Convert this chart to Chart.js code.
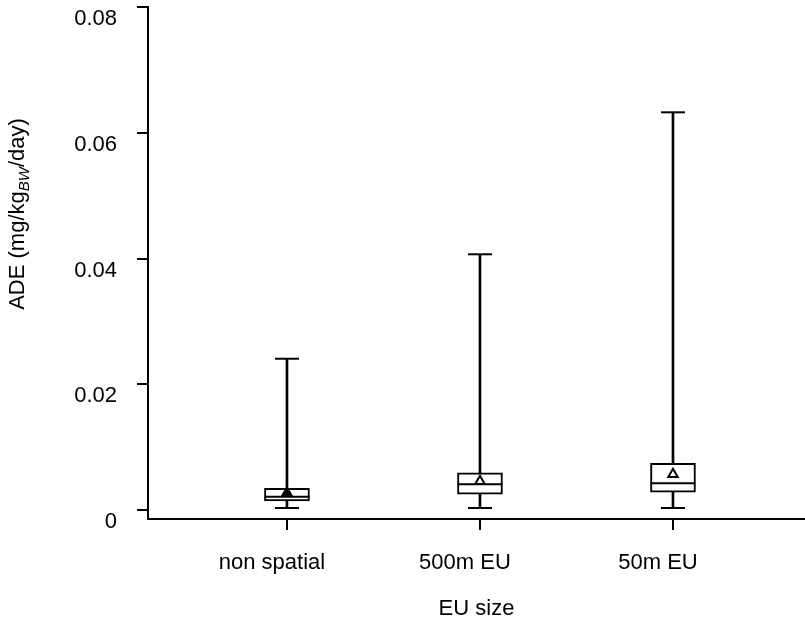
<!DOCTYPE html>
<html>
<head>
<meta charset="utf-8">
<script src="https://cdn.jsdelivr.net/npm/chart.js@4/dist/chart.umd.min.js"></script>
<style>
html,body{margin:0;padding:0;background:#fff;}
#wrap{width:805px;height:626px;position:relative;}
</style>
</head>
<body>
<div id="wrap"><canvas id="c" width="805" height="626"></canvas></div>
<script>
// ---- data ----
const categories = ["non spatial", "500m EU", "50m EU"];
const whiskerMin = [0.00032, 0.00032, 0.00032];
const q1Values = [0.00143, 0.00250, 0.00282];
const medianValues = [0.00212, 0.00409, 0.00425];
const q3Values = [0.00345, 0.00593, 0.00743];
const whiskerMax = [0.02406, 0.04067, 0.06325];
const meanValues = [0.00270, 0.00456, 0.00568];
const yTickValues = [0, 0.02, 0.04, 0.06, 0.08];

const FONT = "'Liberation Sans', Arial, sans-serif";
const xs = categories.map((_, i) => i + 1);

const boxData = xs.map((x, i) => ({x: x, y: [q1Values[i], q3Values[i]]}));
const whiskerData = xs.map((x, i) => ({x: x, y: [whiskerMin[i], whiskerMax[i]]}));
const capData = xs.flatMap((x, i) => [{x: x, y: whiskerMin[i]}, {x: x, y: whiskerMax[i]}]);
const medianData = xs.map((x, i) => ({x: x, y: medianValues[i]}));
const meanData = xs.map((x, i) => ({x: x, y: meanValues[i]}));

const yTitlePlugin = {
  id: 'yTitle',
  afterDraw(chart) {
    const ctx = chart.ctx;
    const parts = [
      {t: 'ADE (mg/kg', f: '22px ' + FONT, dy: 0},
      {t: 'BW', f: 'italic 15px ' + FONT, dy: 5},
      {t: '/day)', f: '22px ' + FONT, dy: 0}
    ];
    ctx.save();
    let total = 0;
    parts.forEach(p => { ctx.font = p.f; p.w = ctx.measureText(p.t).width; total += p.w; });
    const cx = 24, cy = 214;
    ctx.translate(cx, cy);
    ctx.rotate(-Math.PI / 2);
    ctx.fillStyle = '#000';
    ctx.textBaseline = 'alphabetic';
    ctx.textAlign = 'left';
    let x = -total / 2;
    parts.forEach(p => { ctx.font = p.f; ctx.fillText(p.t, x, p.dy); x += p.w; });
    ctx.restore();
  }
};

function noPad(s) { s.paddingTop = 0; s.paddingBottom = 0; s.paddingLeft = 0; s.paddingRight = 0; }

new Chart(document.getElementById('c'), {
  type: 'bar',
  data: {
    datasets: [
      {
        type: 'scatter', label: 'mean', data: meanData, order: 0,
        pointStyle: 'triangle', pointRadius: 5.5, borderWidth: 2,
        borderColor: '#000',
        backgroundColor: ctx => ctx.dataIndex === 0 ? '#000' : '#fff'
      },
      {
        type: 'scatter', label: 'median', data: medianData, order: 1,
        pointStyle: 'line', pointRadius: 22.5, borderWidth: 2, borderColor: '#000'
      },
      {
        type: 'bar', label: 'box', data: boxData, order: 2, grouped: false,
        barThickness: 45, backgroundColor: '#fff', borderColor: '#000',
        borderWidth: 2, borderSkipped: false
      },
      {
        type: 'scatter', label: 'caps', data: capData, order: 3,
        pointStyle: 'line', pointRadius: 12, borderWidth: 2, borderColor: '#000'
      },
      {
        type: 'bar', label: 'whisker', data: whiskerData, order: 4, grouped: false,
        barThickness: 2, backgroundColor: '#000', borderWidth: 0
      }
    ]
  },
  options: {
    responsive: false,
    animation: false,
    events: [],
    layout: {autoPadding: false, padding: {top: 7, right: 0, left: 0, bottom: 0}},
    plugins: {legend: {display: false}, tooltip: {enabled: false}},
    scales: {
      x: {
        type: 'linear',
        min: 0.28, max: 3.684,
        offset: false,
        afterBuildTicks: s => { s.ticks = xs.map(v => ({value: v})); },
        afterFit: s => { s.height = 107; noPad(s); },
        border: {display: true, color: '#000', width: 2},
        grid: {offset: false, drawOnChartArea: false, drawTicks: true, tickLength: 11, color: '#000', lineWidth: 2},
        ticks: {
          autoSkip: false, maxRotation: 0, padding: 20, labelOffset: -15,
          color: '#000', font: {family: FONT, size: 22},
          callback: v => categories[v - 1]
        },
        title: {display: true, text: 'EU size', color: '#000', font: {family: FONT, size: 22}, padding: {top: 10}}
      },
      y: {
        type: 'linear',
        min: -0.00143, max: 0.08,
        afterBuildTicks: s => { s.ticks = yTickValues.map(v => ({value: v})); },
        afterFit: s => { s.width = 148; noPad(s); },
        border: {display: true, color: '#000', width: 2},
        grid: {drawOnChartArea: false, drawTicks: true, tickLength: 11, color: '#000', lineWidth: 2},
        ticks: {
          padding: 20, labelOffset: 12, color: '#000',
          font: {family: FONT, size: 22},
          callback: v => v === 0 ? '0' : v.toFixed(2)
        }
      }
    }
  },
  plugins: [yTitlePlugin]
});
</script>
</body>
</html>
